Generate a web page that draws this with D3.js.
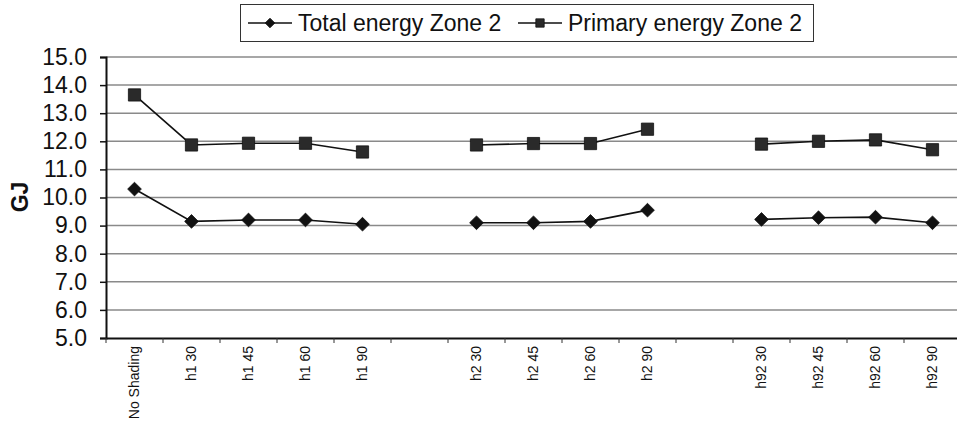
<!DOCTYPE html>
<html>
<head>
<meta charset="utf-8">
<script src="https://cdn.jsdelivr.net/npm/d3@7"></script>
<style>
  body { margin: 0; background: #fff; }
  svg { display: block; font-family: Arial, "Liberation Sans", sans-serif; }
</style>
</head>
<body>
<script>
// Data (blank categories = gaps between the groups)
const categories = ["No Shading", "h1 30", "h1 45", "h1 60", "h1 90", "",
                    "h2 30", "h2 45", "h2 60", "h2 90", "",
                    "h92 30", "h92 45", "h92 60", "h92 90"]
const totalEnergy   = [10.3, 9.15, 9.2, 9.2, 9.05, null, 9.1, 9.1, 9.15, 9.55, null, 9.22, 9.28, 9.3, 9.1]
const primaryEnergy = [13.65, 11.87, 11.93, 11.93, 11.62, null, 11.87, 11.92, 11.92, 12.43, null, 11.9, 12.0, 12.05, 11.7]
const yTicks = [5, 6, 7, 8, 9, 10, 11, 12, 13, 14, 15]
const seriesNames = ["Total energy Zone 2", "Primary energy Zone 2"]

const width = 957, height = 421
const margin = { top: 57, left: 106, bottom: 83 }
const plotRight = 961 // plot runs just past the right edge of the picture

const svg = d3.select('body').append('svg')
    .attr('width', width)
    .attr('height', height)

// Scales
const x = d3.scaleBand()
    .domain(d3.range(categories.length))
    .range([margin.left, plotRight])
const y = d3.scaleLinear()
    .domain([5, 15])
    .range([height - margin.bottom, margin.top])

// Gridlines
svg.append('g').selectAll('line')
    .data(yTicks.slice(1))
    .enter().append('line')
        .attr('x1', margin.left).attr('x2', plotRight)
        .attr('y1', d => y(d)).attr('y2', d => y(d))
        .attr('stroke', '#8a8a8a')
        .attr('stroke-width', 1.5)

// Y axis
const yAxis = svg.append('g')
    .attr('transform', `translate(${margin.left},0)`)
    .call(d3.axisLeft(y).tickValues(yTicks).tickFormat(d3.format('.1f')).tickSize(6).tickPadding(13))
yAxis.select('.domain').attr('stroke', '#111').attr('stroke-width', 2)
yAxis.selectAll('.tick line').attr('stroke', '#111').attr('stroke-width', 1.5)
yAxis.selectAll('.tick text')
    .attr('font-size', 23)
    .attr('font-family', 'Arial, "Liberation Sans", sans-serif')
    .attr('fill', '#111')

// X axis: labels at band centres, tick marks at band edges
const xAxis = svg.append('g')
    .attr('transform', `translate(0,${y(5)})`)
    .call(d3.axisBottom(x).tickFormat(i => categories[i]).tickSize(0).tickPadding(0))
xAxis.select('.domain').attr('stroke', '#111').attr('stroke-width', 2)
xAxis.selectAll('.tick text')
    .attr('font-size', 14)
    .attr('font-family', '"Liberation Sans Narrow", "Arial Narrow", sans-serif')
    .attr('fill', '#111')
    .attr('text-anchor', 'end')
    .attr('dy', '0.35em')
    .attr('transform', 'translate(0,8) rotate(-90)')
xAxis.append('g').selectAll('line')
    .data(d3.range(categories.length + 1))
    .enter().append('line')
        .attr('x1', i => x.range()[0] + i * x.step())
        .attr('x2', i => x.range()[0] + i * x.step())
        .attr('y1', 0).attr('y2', 5)
        .attr('stroke', '#333')
        .attr('stroke-width', 1)

// Y title
svg.append('text')
    .attr('transform', `translate(28,197) rotate(-90)`)
    .attr('text-anchor', 'middle')
    .attr('font-size', 23)
    .attr('font-weight', 'bold')
    .attr('fill', '#111')
    .text('GJ')

// Lines + markers
const line = d3.line()
    .defined(d => d != null)
    .x((d, i) => x(i) + x.bandwidth() / 2)
    .y(d => y(d))

const diamond = d3.symbol().type(d3.symbolDiamond2).size(120)
const square = d3.symbol().type(d3.symbolSquare).size(150)

function drawSeries(values, sym, fill) {
    svg.append('path')
        .datum(values)
        .attr('d', line)
        .attr('fill', 'none')
        .attr('stroke', '#111')
        .attr('stroke-width', 1.6)
    svg.append('g').selectAll('path')
        .data(values.map((v, i) => ({ v, i })).filter(d => d.v != null))
        .enter().append('path')
            .attr('transform', d => `translate(${x(d.i) + x.bandwidth() / 2},${y(d.v)})`)
            .attr('d', sym)
            .attr('fill', fill)
            .attr('stroke', '#111')
            .attr('stroke-width', 0.8)
}
drawSeries(primaryEnergy, square, '#2a2a2a')
drawSeries(totalEnergy, diamond, '#111')

// Legend
const legend = svg.append('g')
legend.append('rect')
    .attr('x', 240.5).attr('y', 4.5)
    .attr('width', 573).attr('height', 37)
    .attr('fill', '#fff')
    .attr('stroke', '#333')
    .attr('stroke-width', 1)

const legendItems = [
    { name: seriesNames[0], x0: 248, tx: 298, sym: diamond, fill: '#111' },
    { name: seriesNames[1], x0: 518, tx: 568, sym: square, fill: '#2a2a2a' }
]
legendItems.forEach(it => {
    legend.append('line')
        .attr('x1', it.x0).attr('x2', it.x0 + 44)
        .attr('y1', 23).attr('y2', 23)
        .attr('stroke', '#111').attr('stroke-width', 1.6)
    legend.append('path')
        .attr('transform', `translate(${it.x0 + 22},23)`)
        .attr('d', it.sym.size(it.sym === diamond ? 60 : 70))
        .attr('fill', it.fill)
        .attr('stroke', '#111').attr('stroke-width', 0.8)
    legend.append('text')
        .attr('x', it.tx).attr('y', 31)
        .attr('font-size', 23)
        .attr('fill', '#111')
        .text(it.name)
})
</script>
</body>
</html>
